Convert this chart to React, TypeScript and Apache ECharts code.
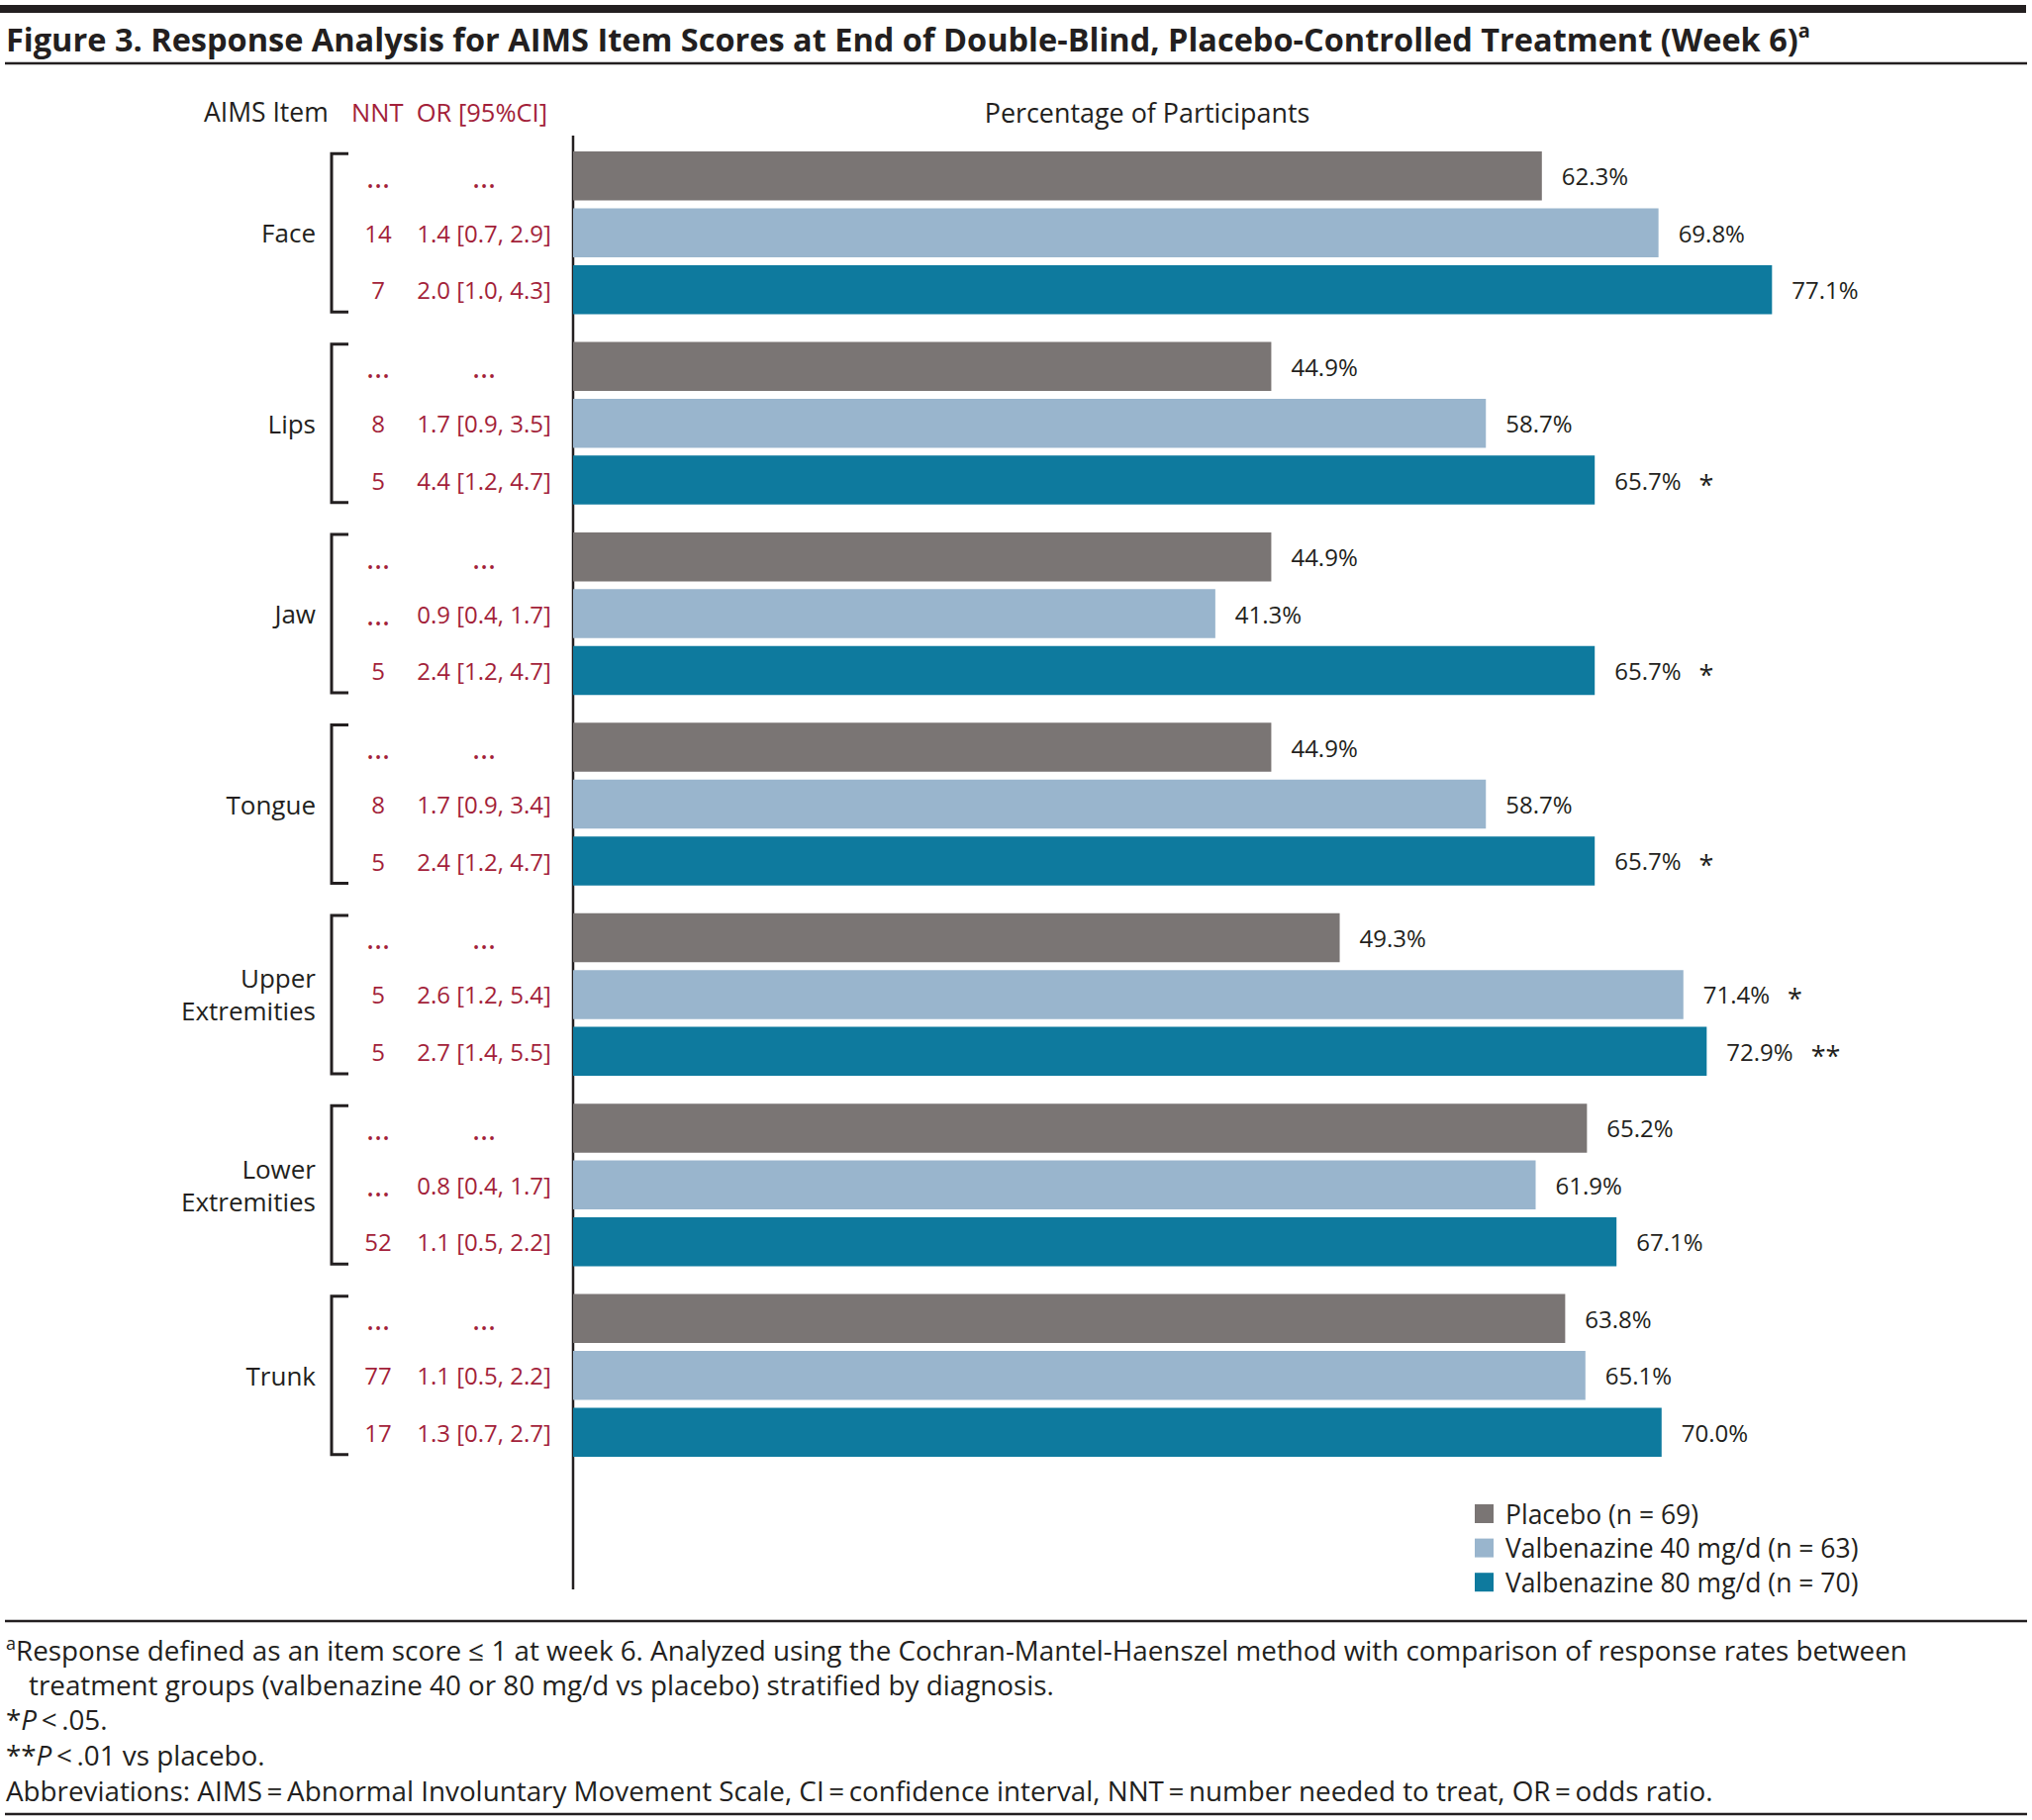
import React, { useEffect, useRef } from "react";
import * as echarts from "echarts";

const items = ["Face", "Lips", "Jaw", "Tongue", "Upper\nExtremities", "Lower\nExtremities", "Trunk"];
const seriesNames = ["Placebo (n = 69)", "Valbenazine 40 mg/d (n = 63)", "Valbenazine 80 mg/d (n = 70)"];
const placebo = [62.3, 44.9, 44.9, 44.9, 49.3, 65.2, 63.8];
const val40 = [69.8, 58.7, 41.3, 58.7, 71.4, 61.9, 65.1];
const val80 = [77.1, 65.7, 65.7, 65.7, 72.9, 67.1, 70.0];
const sigPlacebo = ["", "", "", "", "", "", ""];
const sig40 = ["", "", "", "", "*", "", ""];
const sig80 = ["", "*", "*", "*", "**", "", ""];
const nntPlacebo = ["…", "…", "…", "…", "…", "…", "…"];
const nnt40 = ["14", "8", "…", "8", "5", "…", "77"];
const nnt80 = ["7", "5", "5", "5", "5", "52", "17"];
const orPlacebo = ["…", "…", "…", "…", "…", "…", "…"];
const or40 = ["1.4 [0.7, 2.9]", "1.7 [0.9, 3.5]", "0.9 [0.4, 1.7]", "1.7 [0.9, 3.4]", "2.6 [1.2, 5.4]", "0.8 [0.4, 1.7]", "1.1 [0.5, 2.2]"];
const or80 = ["2.0 [1.0, 4.3]", "4.4 [1.2, 4.7]", "2.4 [1.2, 4.7]", "2.4 [1.2, 4.7]", "2.7 [1.4, 5.5]", "1.1 [0.5, 2.2]", "1.3 [0.7, 2.7]"];
const colors = ["#7a7574", "#99b5cd", "#0e7a9e"];

const FF = "'Open Sans', Lato, sans-serif";
const INK = "#231f20";
const RED = "#a31f3a";
const TS = "\u2009";

const cell = (s: string) => (s === "…" ? `{e|${s}}` : `{n|${s}}`);

export default function App() {
  const ref = useRef<HTMLDivElement>(null);
  useEffect(() => {
    if (!ref.current) return;
    const chart = echarts.init(ref.current, null, { renderer: "svg" });
    const values = [placebo, val40, val80];
    const sigs = [sigPlacebo, sig40, sig80];
    const series = values.map((vals, si) => ({
      type: "bar",
      name: seriesNames[si],
      data: vals,
      barWidth: 49.5,
      barGap: "16%",
      itemStyle: { color: colors[si] },
      label: {
        show: true,
        position: "right",
        distance: 20,
        formatter: (p: any) => {
          const s = sigs[si][p.dataIndex];
          return `{v|${Number(p.value).toFixed(1)}%}` + (s ? `{s|${s}}` : "");
        },
        rich: {
          v: { fontSize: 24, color: INK, fontFamily: FF },
          s: { fontSize: 27, color: INK, fontFamily: FF, padding: [8, 0, 0, 18] },
        },
      },
    }));
    const colRich = {
      n: { fontSize: 24, lineHeight: 57.5, color: RED, fontFamily: FF },
      e: { fontSize: 31, lineHeight: 57.5, color: RED, fontFamily: FF },
    };
    const baseY = {
      type: "category",
      data: items,
      inverse: true,
      gridIndex: 0,
      position: "left",
      offset: 0,
      axisLine: { show: false },
      axisTick: { show: false },
      splitLine: { show: false },
    };
    chart.setOption({
      animation: false,
      grid: { left: 579, top: 139, width: 1414, height: 1347, containLabel: false, outerBoundsMode: "none" },
      xAxis: {
        type: "value",
        min: 0,
        max: 90,
        show: false,
      },
      yAxis: [
        {
          ...baseY,
          axisLabel: {
            interval: 0,
            margin: 260,
            align: "right",
            fontSize: 26,
            lineHeight: 33,
            color: INK,
            fontFamily: FF,
          },
        },
        {
          ...baseY,
          axisLabel: {
            interval: 0,
            margin: 197,
            align: "center",
            lineHeight: 57.5,
            color: RED,
            fontFamily: FF,
            rich: colRich,
            formatter: (_v: string, i: number) => `${cell(nntPlacebo[i])}\n${cell(nnt40[i])}\n${cell(nnt80[i])}`,
          },
        },
        {
          ...baseY,
          axisLabel: {
            interval: 0,
            margin: 90,
            align: "center",
            lineHeight: 57.5,
            color: RED,
            fontFamily: FF,
            rich: colRich,
            formatter: (_v: string, i: number) => `${cell(orPlacebo[i])}\n${cell(or40[i])}\n${cell(or80[i])}`,
          },
        },
      ],
      legend: {
        orient: "vertical",
        left: 1490,
        top: 1516,
        padding: 0,
        itemWidth: 19,
        itemHeight: 19,
        itemGap: 7.6,
        icon: "rect",
        data: seriesNames,
        textStyle: { fontSize: 26.5, color: INK, fontFamily: FF, lineHeight: 20, padding: [0, 0, 0, 7] },
      },
      series,
    });

    const brackets = items.map((_, i) => {
      const c = chart.convertToPixel({ yAxisIndex: 0 }, i) as number;
      return {
        type: "polyline",
        shape: { points: [[352, c - 80], [335, c - 80], [335, c + 80], [352, c + 80]] },
        style: { stroke: INK, lineWidth: 3, fill: null },
      };
    });

    const lineStyle = { stroke: INK, lineWidth: 2.5 };
    const FN = 27.8;
    chart.setOption({
      graphic: [
        { type: "rect", shape: { x: 0, y: 5, width: 2047, height: 8 }, style: { fill: INK } },
        {
          type: "text",
          x: 6,
          y: 39,
          style: {
            text: "{t|Figure 3. Response Analysis for AIMS Item Scores at End of Double-Blind, Placebo-Controlled Treatment (Week 6)}{sup|a}",
            verticalAlign: "middle",
            rich: {
              t: { fontSize: 32.5, fontWeight: "bold", fill: INK, fontFamily: FF, lineHeight: 38 },
              sup: { fontSize: 20, fontWeight: "bold", fill: INK, fontFamily: FF, verticalAlign: "top", lineHeight: 20 },
            },
          },
        },
        { type: "line", shape: { x1: 5, y1: 64, x2: 2048, y2: 64 }, style: lineStyle },
        {
          type: "text",
          x: 206,
          y: 113,
          style: { text: "AIMS Item", fontSize: 26.5, fill: INK, fontFamily: FF, verticalAlign: "middle" },
        },
        {
          type: "text",
          x: 355,
          y: 113,
          style: { text: "NNT  OR [95%CI]", fontSize: 25.5, fill: RED, fontFamily: FF, verticalAlign: "middle" },
        },
        {
          type: "text",
          x: 1159,
          y: 113,
          style: { text: "Percentage of Participants", fontSize: 26.9, fill: INK, fontFamily: FF, align: "center", verticalAlign: "middle" },
        },
        { type: "line", shape: { x1: 579, y1: 137, x2: 579, y2: 1606 }, style: { stroke: INK, lineWidth: 2.5 } },
        ...brackets,
        { type: "line", shape: { x1: 5, y1: 1638, x2: 2048, y2: 1638 }, style: lineStyle },
        {
          type: "text",
          x: 6,
          y: 1667,
          style: {
            text: "{sup|a}{t|Response defined as an item score ≤ 1 at week 6. Analyzed using the Cochran-Mantel-Haenszel method with comparison of response rates between}",
            verticalAlign: "middle",
            rich: {
              t: { fontSize: FN, fill: INK, fontFamily: FF, lineHeight: 32 },
              sup: { fontSize: 18, fill: INK, fontFamily: FF, verticalAlign: "top", lineHeight: 18 },
            },
          },
        },
        {
          type: "text",
          x: 29,
          y: 1702,
          style: { text: "treatment groups (valbenazine 40 or 80 mg/d vs placebo) stratified by diagnosis.", fontSize: FN, fill: INK, fontFamily: FF, verticalAlign: "middle" },
        },
        {
          type: "text",
          x: 6,
          y: 1737,
          style: {
            text: `{t|*}{i|P}{t|${TS}<${TS}.05.}`,
            verticalAlign: "middle",
            rich: {
              t: { fontSize: FN, fill: INK, fontFamily: FF },
              i: { fontSize: FN, fill: INK, fontFamily: FF, fontStyle: "italic" },
            },
          },
        },
        {
          type: "text",
          x: 6,
          y: 1773,
          style: {
            text: `{t|**}{i|P}{t|${TS}<${TS}.01 vs placebo.}`,
            verticalAlign: "middle",
            rich: {
              t: { fontSize: FN, fill: INK, fontFamily: FF },
              i: { fontSize: FN, fill: INK, fontFamily: FF, fontStyle: "italic" },
            },
          },
        },
        {
          type: "text",
          x: 6,
          y: 1809,
          style: {
            text: `Abbreviations: AIMS${TS}=${TS}Abnormal Involuntary Movement Scale, CI${TS}=${TS}confidence interval, NNT${TS}=${TS}number needed to treat, OR${TS}=${TS}odds ratio.`,
            fontSize: FN,
            fill: INK,
            fontFamily: FF,
            verticalAlign: "middle",
          },
        },
        { type: "line", shape: { x1: 5, y1: 1833, x2: 2048, y2: 1833 }, style: lineStyle },
      ],
    });

    return () => chart.dispose();
  }, []);
  return (
    <div
      ref={ref}
      style={{ position: "absolute", left: 0, top: 0, width: 2053, height: 1839, background: "#fff" }}
    />
  );
}
